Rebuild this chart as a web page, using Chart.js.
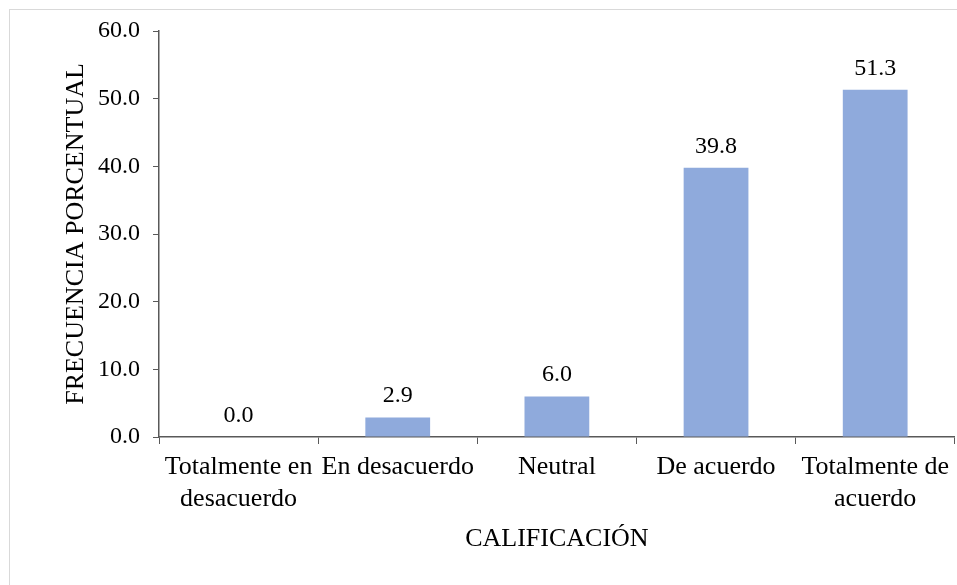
<!DOCTYPE html>
<html>
<head>
<meta charset="utf-8">
<script src="https://cdn.jsdelivr.net/npm/chart.js@4"></script>
<style>
    html, body { margin: 0; padding: 0; background: #ffffff; overflow: hidden; }
    #wrap { position: relative; width: 957px; height: 585px; }
    #frame { position: absolute; left: 9px; top: 9px; width: 1100px; height: 700px; border: 1px solid #d9d9d9; box-sizing: border-box; }
    #grafico { position: absolute; left: 0; top: 0; }
</style>
</head>
<body>
<div id="wrap">
    <div id="frame"></div>
    <canvas id="grafico" width="957" height="585"></canvas>
</div>
<script>
const CATEGORIES = [
    ['Totalmente en', 'desacuerdo'],
    'En desacuerdo',
    'Neutral',
    'De acuerdo',
    ['Totalmente de', 'acuerdo']
];
const PERCENTAGES = [0.0, 2.9, 6.0, 39.8, 51.3];
const Y_TICKS = [0, 10, 20, 30, 40, 50, 60];
const X_TITLE = 'CALIFICACIÓN';
const Y_TITLE = 'FRECUENCIA PORCENTUAL';

const SERIF = '"Liberation Serif", "Times New Roman", serif';
const AXIS_COLOR = '#595959';

const valueLabels = {
    id: 'valueLabels',
    afterDatasetsDraw(chart) {
        const { ctx } = chart;
        const meta = chart.getDatasetMeta(0);
        ctx.save();
        ctx.font = `24px ${SERIF}`;
        ctx.fillStyle = '#000000';
        ctx.textAlign = 'center';
        ctx.textBaseline = 'alphabetic';
        meta.data.forEach((bar, i) => {
            ctx.fillText(PERCENTAGES[i].toFixed(1), bar.x, bar.y - 15);
        });
        ctx.restore();
    }
};

new Chart(document.getElementById('grafico'), {
    type: 'bar',
    data: {
        labels: CATEGORIES,
        datasets: [{
            data: PERCENTAGES,
            backgroundColor: '#8faadc',
            borderWidth: 0,
            barPercentage: 0.407,
            categoryPercentage: 1
        }]
    },
    options: {
        responsive: false,
        animation: false,
        events: [],
        layout: { padding: { top: 31, right: 0, bottom: 0, left: 0 } },
        plugins: {
            legend: { display: false },
            tooltip: { enabled: false }
        },
        scales: {
            x: {
                grid: {
                    display: true,
                    drawOnChartArea: false,
                    drawTicks: true,
                    tickLength: 7,
                    color: AXIS_COLOR,
                    offset: true
                },
                border: { color: AXIS_COLOR, width: 1.5 },
                ticks: {
                    autoSkip: false,
                    maxRotation: 0,
                    minRotation: 0,
                    padding: 8,
                    color: '#000000',
                    font: { family: SERIF, size: 26, lineHeight: 1.2 }
                },
                title: {
                    display: true,
                    text: X_TITLE,
                    color: '#000000',
                    font: { family: SERIF, size: 26, lineHeight: 1.2 },
                    padding: { top: 30, bottom: 30 }
                },
                afterFit(scale) { scale.height = 148; }
            },
            y: {
                min: 0,
                max: 60,
                afterBuildTicks(scale) { scale.ticks = Y_TICKS.map(v => ({ value: v })); },
                grid: {
                    display: true,
                    drawOnChartArea: false,
                    drawTicks: true,
                    tickLength: 6,
                    color: AXIS_COLOR
                },
                border: { color: AXIS_COLOR, width: 1.5 },
                ticks: {
                    padding: 13,
                    color: '#000000',
                    font: { family: SERIF, size: 24 },
                    callback: value => Number(value).toFixed(1)
                },
                title: {
                    display: true,
                    text: Y_TITLE,
                    color: '#000000',
                    font: { family: SERIF, size: 26, lineHeight: 1.2 },
                    padding: { top: 61, bottom: 61 }
                },
                afterFit(scale) { scale.width = 159; }
            }
        }
    },
    plugins: [valueLabels]
});
</script>
</body>
</html>
